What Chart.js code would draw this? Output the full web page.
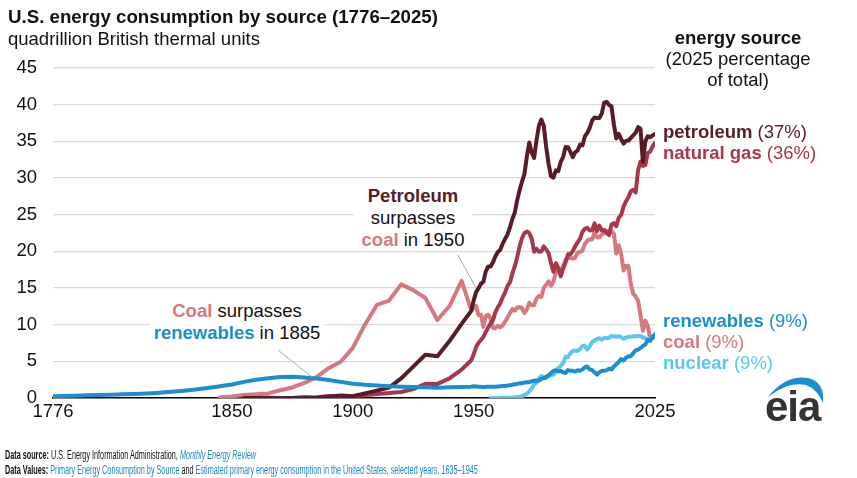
<!DOCTYPE html>
<html><head><meta charset="utf-8">
<script src="https://cdn.jsdelivr.net/npm/chart.js@4"></script>
<style>
html,body{margin:0;padding:0}
body{width:857px;height:478px;position:relative;background:#fff;font-family:"Liberation Sans",Arial,sans-serif;overflow:hidden;color:#111}
#c{position:absolute;left:0;top:0}
.t{position:absolute;white-space:nowrap;line-height:21px;font-size:18.5px}
.b{font-weight:bold}
.ann{position:absolute;transform:translateX(-50%);text-align:center;background:#fff;font-size:18.5px;line-height:22px;padding:0 4px;white-space:nowrap}
.foot{position:absolute;left:5px;font-family:"Liberation Sans",sans-serif;font-size:12.5px;line-height:14px;white-space:nowrap;color:#111;transform:scaleX(0.58);transform-origin:0 0}
.lnk{color:#1f87c0}
</style></head><body>
<canvas id="c" width="857" height="478" style="width:857px;height:478px"></canvas>

<div class="t b" style="left:8px;top:6px;font-size:18.7px">U.S. energy consumption by source (1776–2025)</div>
<div class="t" style="left:8px;top:28px">quadrillion British thermal units</div>

<div class="t" style="left:663px;top:27px;width:150px;text-align:center;line-height:21px"><span class="b">energy source</span><br>(2025 percentage<br>of total)</div>

<svg style="position:absolute;left:0;top:0" width="857" height="478">
  <line x1="278" y1="350" x2="312" y2="377" stroke="#aaa" stroke-width="1"/>
  <line x1="458" y1="255" x2="476" y2="288" stroke="#aaa" stroke-width="1"/>
  <path d="M768,397 Q786,374 808,378 Q825,382 823,403 Q817,389 806,385 Q788,381 768,397 Z" fill="#1a8fd0"/>
</svg>

<div class="ann" style="left:237px;top:300px"><span class="b" style="color:#d67880">Coal</span> surpasses<br><span class="b" style="color:#1b8ecf">renewables</span> in 1885</div>
<div class="ann" style="left:413px;top:185px;padding:0 8px"><span class="b" style="color:#5a1b27">Petroleum</span><br>surpasses<br><span class="b" style="color:#d67880">coal</span> in 1950</div>

<div class="t" style="left:663px;top:121px;color:#5a1b27"><span class="b">petroleum</span> (37%)</div>
<div class="t" style="left:663px;top:142px;color:#a7384b"><span class="b">natural gas</span> (36%)</div>
<div class="t" style="left:663px;top:310px;color:#1b8ecf"><span class="b">renewables</span> (9%)</div>
<div class="t" style="left:663px;top:331px;color:#d67880"><span class="b">coal</span> (9%)</div>
<div class="t" style="left:663px;top:352px;color:#5bc6f1"><span class="b">nuclear</span> (9%)</div>

<div class="t b" style="left:765px;top:387px;font-size:42px;line-height:40px;color:#333;letter-spacing:-1px">eia</div>

<div class="foot" style="top:448px"><b>Data source:</b> U.S. Energy Information Administration, <i class="lnk">Monthly Energy Review</i></div>
<div class="foot" style="top:463px"><b>Data Values:</b> <span class="lnk">Primary Energy Consumption by Source</span> and <span class="lnk">Estimated primary energy consumption in the United States, selected years, 1635–1945</span></div>

<script>
// ---- data (quadrillion Btu) ----
const xTickYears = [1776, 1850, 1900, 1950, 2025];
const yTickStep = 5;

// selected historical years (before 1949)
const renewHistYears = [1776,1780,1785,1790,1795,1800,1805,1810,1815,1820,1825,1830,1835,1840,1845,1850,1855,1860,1865,1870,1875,1880,1885,1890,1895,1900,1905,1910,1915,1920,1925,1930,1935,1940,1945];
const renewHistValues = [0.25,0.28,0.32,0.36,0.40,0.45,0.50,0.56,0.63,0.72,0.84,0.98,1.15,1.35,1.60,1.85,2.20,2.50,2.70,2.85,2.90,2.80,2.65,2.45,2.20,1.95,1.80,1.70,1.60,1.55,1.50,1.45,1.40,1.45,1.50];

const coalHistYears = [1845,1850,1855,1860,1865,1870,1875,1880,1885,1890,1895,1900,1905,1910,1915,1920,1925,1930,1935,1940,1945];
const coalHistValues = [0.10,0.22,0.42,0.52,0.63,1.05,1.44,2.05,2.84,4.06,4.95,6.84,10.00,12.71,13.29,15.50,14.71,13.64,10.63,12.54,15.97];

const petroHistYears = [1855,1860,1865,1870,1875,1880,1885,1890,1895,1900,1905,1910,1915,1920,1925,1930,1935,1940,1945];
const petroHistValues = [0.00,0.00,0.02,0.01,0.01,0.10,0.04,0.16,0.34,0.23,0.61,1.01,1.42,2.68,4.28,5.90,5.68,7.76,10.11];

const gasHistYears = [1880,1885,1890,1895,1900,1905,1910,1915,1920,1925,1930,1935,1940,1945];
const gasHistValues = [0.00,0.08,0.26,0.15,0.25,0.37,0.54,0.67,0.81,1.21,1.93,1.92,2.67,3.87];

// annual years 1949–2025
const annualYears = Array.from({length: 2025 - 1949 + 1}, (_, i) => 1949 + i);

const coalAnnual = [11.98,12.35,12.55,11.31,11.37,9.71,11.17,11.35,10.82,9.53,9.52,9.84,9.62,9.91,10.41,10.96,11.58,12.14,11.91,12.33,12.38,12.27,11.60,12.08,12.97,12.66,12.66,13.58,13.92,13.77,15.04,15.42,15.91,15.32,15.89,17.07,17.48,17.26,18.01,18.85,19.07,19.17,18.99,19.12,19.84,19.91,20.09,21.00,21.45,21.66,21.62,22.58,21.91,21.90,22.32,22.47,22.80,22.45,22.75,22.39,19.69,20.83,19.66,17.38,18.04,17.99,15.55,14.23,13.84,13.25,11.31,9.18,10.55,9.85,8.17,8.20,8.50];

const petroAnnual = [11.88,13.32,14.43,14.96,15.56,15.84,17.25,17.94,17.93,18.53,19.32,19.92,20.22,21.05,21.70,22.30,23.25,24.40,25.28,26.98,28.34,29.52,30.56,32.95,34.84,33.45,32.73,35.18,37.12,37.97,37.12,34.20,31.93,30.23,30.05,31.05,30.92,32.20,32.86,34.22,34.21,33.55,32.85,33.53,33.74,34.56,34.44,35.68,36.16,36.82,37.84,38.26,38.19,38.19,38.81,40.29,40.39,39.96,39.77,37.28,35.40,36.01,35.31,34.69,35.06,35.11,35.47,35.82,36.17,36.93,36.72,32.18,35.00,35.70,35.56,35.80,36.00];

const gasAnnual = [5.15,5.97,6.95,7.53,7.91,8.33,8.99,9.61,10.19,10.66,11.72,12.39,12.93,13.73,14.40,15.29,15.77,16.99,17.94,19.21,20.68,21.79,22.47,22.70,22.51,21.73,19.95,20.35,19.93,20.00,20.67,20.24,19.74,18.36,17.21,18.38,17.70,16.59,17.64,18.45,19.60,19.60,20.03,20.71,21.23,21.73,22.67,23.08,23.22,22.83,22.91,23.82,22.77,23.51,22.83,22.91,22.56,22.22,23.66,23.84,23.42,24.57,24.95,26.09,26.81,27.38,28.19,28.40,28.03,31.06,32.26,31.64,31.75,33.41,33.60,34.30,34.80];

const renewAnnual = [1.55,1.60,1.58,1.55,1.52,1.50,1.52,1.55,1.55,1.55,1.55,1.58,1.60,1.65,1.65,1.70,1.75,1.80,1.88,1.92,2.00,2.02,2.10,2.15,2.15,2.30,2.35,2.40,2.35,2.60,2.70,2.90,3.10,3.40,3.70,3.80,3.60,3.70,3.50,3.40,3.80,3.70,3.70,3.60,3.80,3.70,3.90,4.20,4.30,3.90,3.80,3.50,3.20,3.50,3.70,3.70,3.80,4.00,3.90,4.30,4.60,4.90,5.30,5.10,5.50,5.70,5.70,6.10,6.50,6.60,6.80,7.10,7.30,7.90,7.80,8.30,8.70];

const nuclearYears = Array.from({length: 2025 - 1957 + 1}, (_, i) => 1957 + i);
const nuclearValues = [0.00,0.00,0.00,0.01,0.02,0.03,0.04,0.04,0.04,0.06,0.09,0.14,0.15,0.24,0.41,0.58,0.91,1.27,1.90,2.11,2.70,3.02,2.78,2.74,3.01,3.13,3.20,3.55,4.08,4.38,4.75,5.59,5.60,6.10,6.42,6.48,6.41,6.69,7.08,7.09,6.60,7.07,7.61,7.86,8.03,8.15,7.96,8.22,8.16,8.21,8.46,8.43,8.36,8.43,8.27,8.06,8.27,8.34,8.34,8.43,8.42,8.44,8.45,8.25,8.13,8.06,8.10,8.20,8.30];

// ---- build ----
const pts = (ys, vs) => ys.map((y, i) => ({x: y, y: vs[i]}));
const COLORS = {petroleum:'#5a1b27', gas:'#a7384b', coal:'#d67880', renew:'#1b8ecf', nuclear:'#5bc6f1'};
const mk = (label, data, color, order) => ({label, data, borderColor: color, backgroundColor: color, borderWidth: 4, pointRadius: 0, pointHoverRadius: 0, tension: 0, fill: false, order, borderJoinStyle: 'round', borderCapStyle: 'round'});

const datasets = [
  mk('renewables', pts(renewHistYears.concat(annualYears), renewHistValues.concat(renewAnnual)), COLORS.renew, 1),
  mk('nuclear', pts(nuclearYears, nuclearValues), COLORS.nuclear, 2),
  mk('petroleum', pts(petroHistYears.concat(annualYears), petroHistValues.concat(petroAnnual)), COLORS.petroleum, 3),
  mk('natural gas', pts(gasHistYears.concat(annualYears), gasHistValues.concat(gasAnnual)), COLORS.gas, 4),
  mk('coal', pts(coalHistYears.concat(annualYears), coalHistValues.concat(coalAnnual)), COLORS.coal, 5)
];

new Chart(document.getElementById('c'), {
  type: 'line',
  data: {datasets},
  options: {
    responsive: false,
    animation: false,
    events: [],
    layout: {padding: {top: 68, right: 202, bottom: 50, left: 0}},
    plugins: {legend: {display: false}, tooltip: {enabled: false}, title: {display: false}},
    scales: {
      x: {
        type: 'linear', min: 1776, max: 2025,
        afterBuildTicks: s => { s.ticks = xTickYears.map(v => ({value: v})); },
        afterFit: s => { s.height = 30; },
        ticks: {font: {family: 'Liberation Sans', size: 18.5}, color: '#111', padding: 3, maxRotation: 0, autoSkip: false, callback: v => String(v)},
        grid: {display: false, drawTicks: false},
        border: {display: true, color: '#000', width: 1.5}
      },
      y: {
        min: 0, max: 45,
        afterFit: s => { s.width = 53; },
        ticks: {stepSize: yTickStep, font: {family: 'Liberation Sans', size: 18.5}, color: '#111', padding: 16},
        grid: {drawTicks: false, lineWidth: 1.3, color: c => c.tick && c.tick.value === 0 ? 'rgba(0,0,0,0)' : '#d9d9d9'},
        border: {display: false}
      }
    }
  }
});
</script>
</body></html>
